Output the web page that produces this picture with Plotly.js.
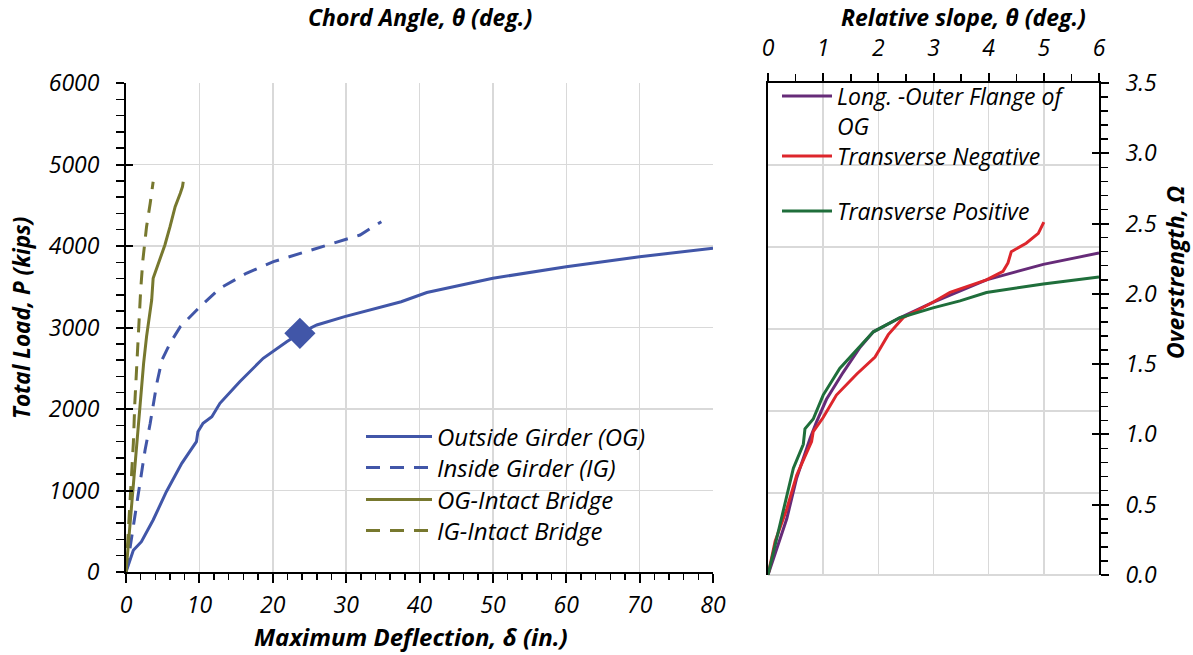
<!DOCTYPE html>
<html>
<head>
<meta charset="utf-8">
<script src="https://cdn.plot.ly/plotly-3.0.1.min.js"></script>
<style>html,body{margin:0;padding:0;background:#fff;}#chart{width:1193px;height:655px;}</style>
</head>
<body>
<div id="chart"></div>
<script>
// ---------- Data (left chart: Maximum Deflection (in.) vs Total Load (kips)) ----------
const ogDefl = [0, 1.0, 2.1, 3.7, 5.5, 7.6, 9.6, 9.8, 10.5, 11.7, 12.8, 15.5, 18.7, 21.9, 23.7, 26.0, 29.8, 33.5, 37.5, 41.0, 50.0, 60.0, 70.0, 80.0];
const ogLoad = [0, 266, 372, 638, 985, 1333, 1600, 1722, 1825, 1906, 2070, 2335, 2622, 2826, 2929, 3031, 3133, 3225, 3316, 3429, 3604, 3746, 3869, 3971];
const ogMarkDefl = [23.7];
const ogMarkLoad = [2929];
const igDefl = [0, 0.3, 1.2, 1.9, 2.6, 3.3, 3.7, 4.2, 4.9, 6.0, 7.4, 10.1, 12.8, 16.4, 20.1, 24.6, 28.2, 31.9, 34.8];
const igLoad = [0, 147, 679, 1088, 1497, 1825, 2070, 2315, 2601, 2806, 3010, 3256, 3481, 3665, 3808, 3931, 4033, 4135, 4298];
const ogIntactDefl = [0, 0.5, 1.0, 1.5, 1.9, 2.4, 2.8, 3.5, 3.7, 4.4, 5.3, 6.0, 6.7, 7.4, 7.7, 7.8];
const ogIntactLoad = [0, 556, 1006, 1579, 2070, 2561, 2888, 3337, 3604, 3788, 4012, 4237, 4483, 4647, 4728, 4789];
const igIntactDefl = [0, 0.3, 0.8, 1.0, 1.2, 1.5, 1.7, 2.0, 2.3, 2.8, 3.3, 3.7];
const igIntactLoad = [0, 474, 1169, 1579, 2070, 2561, 3051, 3460, 3828, 4237, 4524, 4789];

// ---------- Data (right chart: Relative slope (deg.) vs Overstrength) ----------
const longSlope = [0, 0.16, 0.34, 0.52, 0.76, 0.88, 1.06, 1.36, 1.67, 1.91, 2.39, 2.99, 3.96, 4.99, 6.0];
const longOmega = [0, 0.19, 0.40, 0.69, 0.97, 1.09, 1.25, 1.44, 1.62, 1.73, 1.83, 1.94, 2.10, 2.21, 2.29];
const negSlope = [0, 0.13, 0.34, 0.52, 0.79, 0.82, 1.0, 1.24, 1.61, 1.94, 2.03, 2.18, 2.45, 2.99, 3.30, 3.96, 4.26, 4.35, 4.41, 4.68, 4.90, 5.0];
const negOmega = [0, 0.24, 0.47, 0.71, 0.95, 1.02, 1.12, 1.28, 1.43, 1.55, 1.61, 1.71, 1.83, 1.94, 2.01, 2.10, 2.16, 2.22, 2.30, 2.36, 2.43, 2.51];
const posSlope = [0, 0.13, 0.31, 0.46, 0.64, 0.67, 0.82, 1.0, 1.30, 1.67, 1.91, 2.39, 2.99, 3.48, 3.96, 4.99, 6.0];
const posOmega = [0, 0.21, 0.50, 0.76, 0.93, 1.04, 1.11, 1.28, 1.47, 1.63, 1.73, 1.83, 1.90, 1.95, 2.01, 2.07, 2.12];

const seriesNames = ["Outside Girder (OG)", "Inside Girder (IG)", "OG-Intact Bridge", "IG-Intact Bridge",
                     "Long. -Outer Flange of<br>OG", "Transverse Negative", "Transverse Positive"];
const axisTitles = ["Chord Angle, θ (deg.)", "Maximum Deflection, δ (in.)", "Total Load, P (kips)",
                    "Relative slope, θ (deg.)", "Overstrength, Ω"];

// ---------- Styling ----------
const W = 1193, H = 655;
const FONT = "Open Sans";
const fx = p => p / W;
const fy = p => 1 - p / H;
const BLUE = "#4156A8", OLIVE = "#77782E", PURPLE = "#662B78", RED = "#DD262C", GREEN = "#1F6E3B";
const GRID = "#d9d9d9";
const tickFont = () => ({family: FONT, size: 23, color: "#000", style: "italic"});
const titleFont = s => ({family: FONT, size: s, color: "#000", style: "italic", weight: "bold"});
const legFont = s => ({family: FONT, size: s, color: "#000", style: "italic"});

const traces = [
  {x: ogDefl, y: ogLoad, name: seriesNames[0], mode: "lines", line: {color: BLUE, width: 3}, xaxis: "x", yaxis: "y", legend: "legend"},
  {x: ogMarkDefl, y: ogMarkLoad, name: seriesNames[0], mode: "markers", marker: {symbol: "diamond", size: 24, color: BLUE}, xaxis: "x", yaxis: "y", showlegend: false},
  {x: igDefl, y: igLoad, name: seriesNames[1], mode: "lines", line: {color: BLUE, width: 3, dash: "14px,10px"}, xaxis: "x", yaxis: "y", legend: "legend2"},
  {x: ogIntactDefl, y: ogIntactLoad, name: seriesNames[2], mode: "lines", line: {color: OLIVE, width: 3}, xaxis: "x", yaxis: "y", legend: "legend3"},
  {x: igIntactDefl, y: igIntactLoad, name: seriesNames[3], mode: "lines", line: {color: OLIVE, width: 3, dash: "14px,10px"}, xaxis: "x", yaxis: "y", legend: "legend4"},
  {x: longSlope, y: longOmega, name: seriesNames[4], mode: "lines", line: {color: PURPLE, width: 3}, xaxis: "x2", yaxis: "y2", legend: "legend5"},
  {x: negSlope, y: negOmega, name: seriesNames[5], mode: "lines", line: {color: RED, width: 3}, xaxis: "x2", yaxis: "y2", legend: "legend6"},
  {x: posSlope, y: posOmega, name: seriesNames[6], mode: "lines", line: {color: GREEN, width: 3}, xaxis: "x2", yaxis: "y2", legend: "legend7"},
  // empty helper traces so the decorative overlay tick axes are attached to a subplot
  {x: [], y: [], mode: "lines", xaxis: "x", yaxis: "y4", showlegend: false, hoverinfo: "skip"},
  {x: [], y: [], mode: "lines", xaxis: "x2", yaxis: "y5", showlegend: false, hoverinfo: "skip"}
];

const leftX = [fx(126), fx(713)], leftY = [fy(572), fy(83)];
const rightX = [fx(768), fx(1099)], rightY = [fy(575), fy(83)];

function baseAxis(extra) {
  return Object.assign({
    showline: true, linecolor: "#000", linewidth: 2, zeroline: false, automargin: false,
    ticks: "outside", ticklen: 8, tickwidth: 2, tickcolor: "#000", tickfont: tickFont(),
    showgrid: false, gridcolor: GRID, gridwidth: 1.5, fixedrange: true
  }, extra);
}
function insideTicks(extra) {
  return Object.assign({
    showline: false, zeroline: false, automargin: false, showgrid: false, showticklabels: false,
    ticks: "inside", ticklen: 7, tickwidth: 2, tickcolor: "#000", fixedrange: true
  }, extra);
}

function leg(xpx, ypx, iw, fs, extra) {
  return Object.assign({x: fx(xpx), y: fy(ypx), xanchor: "left", yanchor: "middle", bgcolor: "rgba(0,0,0,0)",
    borderwidth: 0, font: legFont(fs), itemwidth: iw, itemclick: false, itemdoubleclick: false}, extra || {});
}

// the right panel's horizontal grid follows Excel's hidden primary axis (6 equal divisions)
const rightGridDivisions = 6;
const gridShapes = [];
for (let k = 0; k < rightGridDivisions; k++) {
  gridShapes.push({type: "line", xref: "x2 domain", yref: "y2 domain", x0: 0, x1: 1,
    y0: k / rightGridDivisions, y1: k / rightGridDivisions, line: {color: GRID, width: 2}, layer: "below"});
}

const layout = {
  width: W, height: H, autosize: false,
  margin: {l: 0, r: 0, t: 0, b: 0},
  paper_bgcolor: "#fff", plot_bgcolor: "rgba(0,0,0,0)",
  font: {family: FONT, color: "#000", style: "italic"},
  showlegend: true,
  // left chart
  xaxis: baseAxis({domain: leftX, anchor: "y", range: [0, 80], dtick: 10, tick0: 0, showgrid: true, ticklen: 9,
    ticklabelstandoff: 2, minor: {dtick: 2, ticks: "outside", ticklen: 6, tickwidth: 1.5, tickcolor: "#000", showgrid: false}}),
  yaxis: baseAxis({domain: leftY, anchor: "x", range: [0, 6000], dtick: 1000, tick0: 0, showgrid: true,
    ticklabelstandoff: 12, minor: {dtick: 200, ticks: "outside", ticklen: 8, tickwidth: 1.5, tickcolor: "#000", showgrid: false}}),
  xaxis3: baseAxis({overlaying: "x", anchor: "y", side: "top", range: [0, 6.52], dtick: 1, tick0: 0,
    ticklabelstandoff: 8, minor: {dtick: 0.2, ticks: "outside", ticklen: 6, tickwidth: 1.5, tickcolor: "#000", showgrid: false}}),
  xaxis4: insideTicks({overlaying: "x", anchor: "y", side: "top", range: [0, 6.52], dtick: 1, tick0: 0}),
  yaxis4: insideTicks({overlaying: "y", anchor: "x", side: "left", range: [0, 6000], dtick: 1000, tick0: 0}),
  // right chart
  xaxis2: baseAxis({domain: rightX, anchor: "y2", side: "top", range: [0, 6], dtick: 1, tick0: 0, showgrid: true,
    ticklabelstandoff: 8, minor: {dtick: 0.5, ticks: "outside", ticklen: 7, tickwidth: 1.5, tickcolor: "#000", showgrid: false}}),
  yaxis2: baseAxis({domain: rightY, anchor: "x2", side: "right", mirror: true, range: [0, 3.5], dtick: 0.5, tick0: 0, tickformat: ".1f",
    ticklabelstandoff: 12, minor: {dtick: 0.1, ticks: "outside", ticklen: 7, tickwidth: 1.5, tickcolor: "#000", showgrid: false}}),
  xaxis5: insideTicks({overlaying: "x2", anchor: "y2", side: "top", range: [0, 6], dtick: 1, tick0: 0}),
  yaxis5: insideTicks({overlaying: "y2", anchor: "x2", side: "right", range: [0, 3.5], dtick: 0.5, tick0: 0}),
  shapes: gridShapes,
  legend: leg(361, 437, 66, 24),
  legend2: leg(361, 468, 66, 24),
  legend3: leg(361, 500, 66, 24),
  legend4: leg(361, 531, 66, 24),
  legend5: leg(777, 111, 50, 23, {valign: "top"}),
  legend6: leg(777, 156, 50, 23),
  legend7: leg(777, 211, 50, 23),
  annotations: [
    {text: axisTitles[0], xref: "paper", yref: "paper", x: fx(420), y: fy(17), showarrow: false, font: titleFont(23), xanchor: "center", yanchor: "middle"},
    {text: axisTitles[1], xref: "paper", yref: "paper", x: fx(411), y: fy(636), showarrow: false, font: titleFont(24), xanchor: "center", yanchor: "middle"},
    {text: axisTitles[2], xref: "paper", yref: "paper", x: fx(21), y: fy(318), showarrow: false, font: titleFont(22.5), textangle: -90, xanchor: "center", yanchor: "middle"},
    {text: axisTitles[3], xref: "paper", yref: "paper", x: fx(963), y: fy(17), showarrow: false, font: titleFont(23), xanchor: "center", yanchor: "middle"},
    {text: axisTitles[4], xref: "paper", yref: "paper", x: fx(1175), y: fy(273), showarrow: false, font: titleFont(23), textangle: -90, xanchor: "center", yanchor: "middle"}
  ]
};

Plotly.newPlot("chart", traces, layout, {staticPlot: true, displayModeBar: false});
</script>
</body>
</html>
